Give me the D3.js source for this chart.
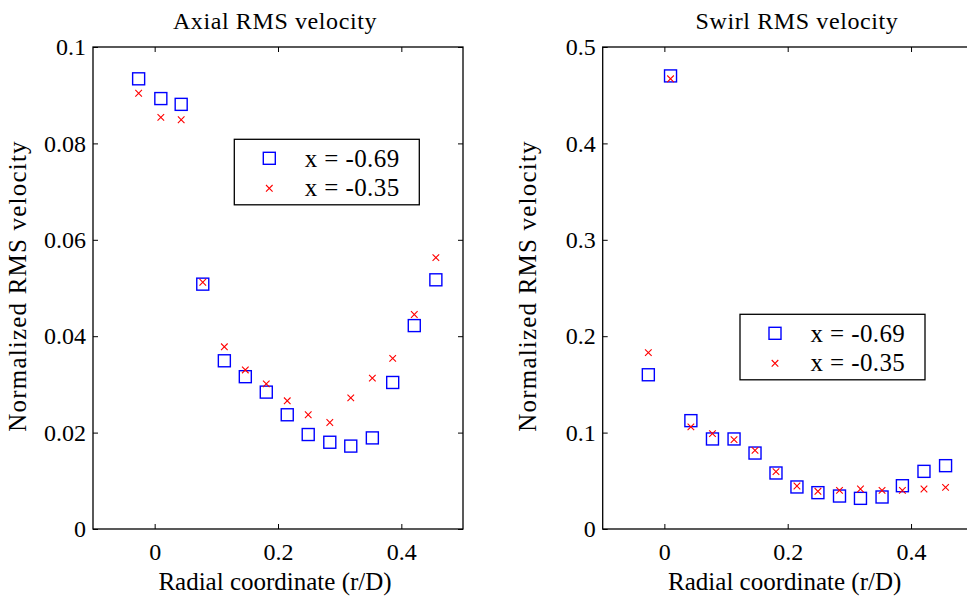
<!DOCTYPE html>
<html><head><meta charset="utf-8">
<script src="https://cdn.jsdelivr.net/npm/d3@7"></script>
<style>
body{margin:0;background:#fff}
svg{display:block}
text{font-family:"Liberation Serif","Times New Roman",serif;fill:#000}
</style>
</head><body>
<svg id="c" width="967" height="599"></svg>
<script>
// ---- data ----
const radial  = [-0.026, 0.010, 0.043, 0.078, 0.113, 0.147, 0.181, 0.215, 0.249, 0.284, 0.318, 0.353, 0.386, 0.421, 0.456];
const axialA  = [0.0934, 0.0893, 0.0881, 0.0508, 0.0349, 0.0316, 0.0284, 0.0237, 0.0196, 0.0180, 0.0172, 0.0189, 0.0304, 0.0422, 0.0517];
const axialB  = [0.0904, 0.0854, 0.0849, 0.0512, 0.0378, 0.0330, 0.0301, 0.0266, 0.0237, 0.0221, 0.0272, 0.0313, 0.0354, 0.0445, 0.0563];
const swirlA  = [0.160, 0.470, 0.1124, 0.0934, 0.0934, 0.0788, 0.0581, 0.0436, 0.0377, 0.0342, 0.0318, 0.0332, 0.0449, 0.0598, 0.0657];
const swirlB  = [0.183, 0.467, 0.106, 0.0989, 0.0927, 0.0816, 0.0595, 0.0446, 0.0391, 0.0401, 0.0415, 0.0401, 0.0401, 0.0415, 0.0432];
const xTicks  = [0, 0.2, 0.4];
const xTickLabels = ["0", "0.2", "0.4"];
const axialTicks = [0, 0.02, 0.04, 0.06, 0.08, 0.1];
const axialTickLabels = ["0", "0.02", "0.04", "0.06", "0.08", "0.1"];
const swirlTicks = [0, 0.1, 0.2, 0.3, 0.4, 0.5];
const swirlTickLabels = ["0", "0.1", "0.2", "0.3", "0.4", "0.5"];
const seriesNames = ["x = -0.69", "x = -0.35"];
const titles = ["Axial RMS velocity", "Swirl RMS velocity"];
const xLabel = "Radial coordinate (r/D)";
const yLabel = "Normalized RMS velocity";

const svg = d3.select("#c");
const BLUE = "#0000ff", RED = "#ff0000";
const SERIF = '"Liberation Serif","Times New Roman",serif';

function panel(o) {
  const g = svg.append("g").attr("transform", `translate(${o.left},${o.top})`);
  const x = d3.scaleLinear().domain([-0.1, 0.5]).range([0, o.w]);
  const y = d3.scaleLinear().domain(o.yDomain).range([o.h, 0]);

  const ax = g.append("g").attr("transform", `translate(0,${o.h})`)
    .call(d3.axisBottom(x).tickValues(xTicks).tickFormat((d, i) => xTickLabels[i]).tickSizeInner(-5).tickSizeOuter(0).tickPadding(14));
  const axT = g.append("g")
    .call(d3.axisTop(x).tickValues(xTicks).tickFormat("").tickSizeInner(-5).tickSizeOuter(0));
  const ay = g.append("g")
    .call(d3.axisLeft(y).tickValues(o.yTicks).tickFormat((d, i) => o.yTickLabels[i]).tickSizeInner(-5).tickSizeOuter(0).tickPadding(7));
  const ayR = g.append("g").attr("transform", `translate(${o.w},0)`)
    .call(d3.axisRight(y).tickValues(o.yTicks).tickFormat("").tickSizeInner(-5).tickSizeOuter(0));
  [ax, axT, ay, ayR].forEach(a => {
    a.attr("font-family", null).attr("font-size", null);
    a.select(".domain").remove();
    a.selectAll(".tick line").attr("stroke", "#000").attr("stroke-width", 1);
    a.selectAll("text").style("font-size", "24px").style("font-family", SERIF).attr("fill", "#000");
  });

  g.append("rect").attr("x", 0).attr("y", 0).attr("width", o.w).attr("height", o.h)
    .attr("fill", "none").attr("stroke", "#000").attr("stroke-width", 1.3);

  g.selectAll(".sq").data(o.a).enter().append("rect")
    .attr("x", (d, i) => x(radial[i]) - 6).attr("y", d => y(d) - 6)
    .attr("width", 12).attr("height", 12)
    .attr("fill", "none").attr("stroke", BLUE).attr("stroke-width", 1.4);
  const cr = 3.3;
  g.selectAll(".cr").data(o.b).enter().append("path")
    .attr("d", (d, i) => {
      const cx = x(radial[i]), cy = y(d);
      return `M${cx - cr},${cy - cr}L${cx + cr},${cy + cr}M${cx - cr},${cy + cr}L${cx + cr},${cy - cr}`;
    })
    .attr("fill", "none").attr("stroke", RED).attr("stroke-width", 1.1);

  svg.append("text").attr("x", o.titleX).attr("y", 29).attr("text-anchor", "middle")
    .style("font-size", "24px").attr("letter-spacing", 0.6).text(o.title);
  svg.append("text").attr("x", o.left + o.w / 2 - 3).attr("y", 590).attr("text-anchor", "middle")
    .style("font-size", "25px").text(xLabel);
  svg.append("text").attr("transform", `translate(${o.left - 67},${o.top + o.h / 2 - 2}) rotate(-90)`)
    .attr("text-anchor", "middle").style("font-size", "25px").attr("letter-spacing", 1.2).text(yLabel);

  const lg = g.append("g").attr("transform", `translate(${o.legX},${o.legY})`);
  lg.append("rect").attr("width", 185).attr("height", 65.5)
    .attr("fill", "#fff").attr("stroke", "#000").attr("stroke-width", 1.3);
  lg.append("rect").attr("x", 35 - 6).attr("y", 19 - 6).attr("width", 12).attr("height", 12)
    .attr("fill", "none").attr("stroke", BLUE).attr("stroke-width", 1.4);
  lg.append("path").attr("d", `M${35 - cr},${49 - cr}L${35 + cr},${49 + cr}M${35 - cr},${49 + cr}L${35 + cr},${49 - cr}`)
    .attr("stroke", RED).attr("stroke-width", 1.1);
  seriesNames.forEach((s, i) => {
    lg.append("text").attr("x", 70.5).attr("y", 27.5 + i * 29.5)
      .style("font-size", "25px").attr("letter-spacing", 0.4).text(s);
  });
}

panel({left: 93, top: 47, w: 370, h: 482, yDomain: [0, 0.1], yTicks: axialTicks, yTickLabels: axialTickLabels,
       a: axialA, b: axialB, title: titles[0], titleX: 275, legX: 141.3, legY: 92.3});
panel({left: 602.7, top: 47, w: 370, h: 482, yDomain: [0, 0.5], yTicks: swirlTicks, yTickLabels: swirlTickLabels,
       a: swirlA, b: swirlB, title: titles[1], titleX: 797, legX: 137.3, legY: 267.3});
</script>
</body></html>
